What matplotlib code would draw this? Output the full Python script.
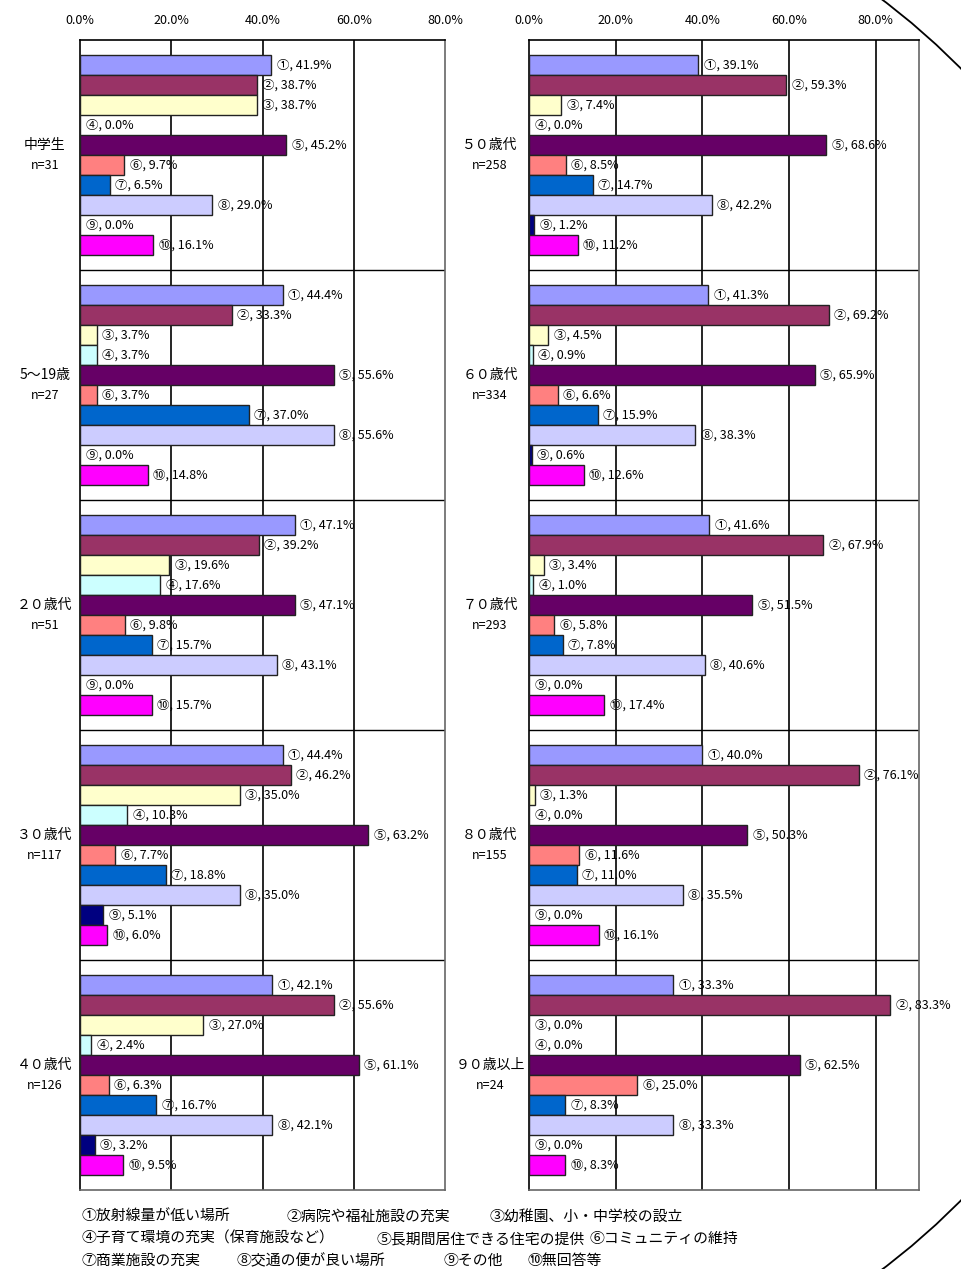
import matplotlib
matplotlib.use("Agg")
import matplotlib.pyplot as plt
from matplotlib.patches import Arc
import matplotlib.transforms as mtransforms

plt.rcParams['font.family'] = ['Noto Sans CJK JP', 'DejaVu Sans']

markers = ['①', '②', '③', '④', '⑤', '⑥', '⑦', '⑧', '⑨', '⑩']
colors = ['#9999FF', '#993366', '#FFFFCC', '#CCFFFF', '#660066',
          '#FF8080', '#0066CC', '#CCCCFF', '#000080', '#FF00FF']

left_groups = ['中学生', '5～19歳', '２０歳代', '３０歳代', '４０歳代']
left_n = ['n=31', 'n=27', 'n=51', 'n=117', 'n=126']
left_values = [
    [41.9, 38.7, 38.7, 0.0, 45.2, 9.7, 6.5, 29.0, 0.0, 16.1],
    [44.4, 33.3, 3.7, 3.7, 55.6, 3.7, 37.0, 55.6, 0.0, 14.8],
    [47.1, 39.2, 19.6, 17.6, 47.1, 9.8, 15.7, 43.1, 0.0, 15.7],
    [44.4, 46.2, 35.0, 10.3, 63.2, 7.7, 18.8, 35.0, 5.1, 6.0],
    [42.1, 55.6, 27.0, 2.4, 61.1, 6.3, 16.7, 42.1, 3.2, 9.5],
]

right_groups = ['５０歳代', '６０歳代', '７０歳代', '８０歳代', '９０歳以上']
right_n = ['n=258', 'n=334', 'n=293', 'n=155', 'n=24']
right_values = [
    [39.1, 59.3, 7.4, 0.0, 68.6, 8.5, 14.7, 42.2, 1.2, 11.2],
    [41.3, 69.2, 4.5, 0.9, 65.9, 6.6, 15.9, 38.3, 0.6, 12.6],
    [41.6, 67.9, 3.4, 1.0, 51.5, 5.8, 7.8, 40.6, 0.0, 17.4],
    [40.0, 76.1, 1.3, 0.0, 50.3, 11.6, 11.0, 35.5, 0.0, 16.1],
    [33.3, 83.3, 0.0, 0.0, 62.5, 25.0, 8.3, 33.3, 0.0, 8.3],
]

tick_values = [0, 20, 40, 60, 80]
tick_labels = ['0.0%', '20.0%', '40.0%', '60.0%', '80.0%']

legend_lines = [
    ['①放射線量が低い場所', '②病院や福祉施設の充実', '③幼稚園、小・中学校の設立'],
    ['④子育て環境の充実（保育施設など）', '⑤長期間居住できる住宅の提供', '⑥コミュニティの維持'],
    ['⑦商業施設の充実', '⑧交通の便が良い場所', '⑨その他', '⑩無回答等'],
]
legend_x = [[82, 287, 490], [82, 377, 590], [82, 237, 444, 528]]

W, H = 962, 1269
fig = plt.figure(figsize=(W / 100, H / 100), dpi=100)

step = 20 / 230.0


def draw_panel(rect, groups, ns, values, xmax, label_x):
    ax = fig.add_axes(rect)
    for gi, vals in enumerate(values):
        for j, v in enumerate(vals):
            y = gi + (j - 4.5) * step
            ax.barh(y, v, height=step * 0.97, color=colors[j],
                    edgecolor='#222222', linewidth=1.0, zorder=3)
            ax.annotate(f'{markers[j]}, {v:.1f}%', xy=(v, y), xytext=(4, 0),
                        textcoords='offset points', va='center', ha='left',
                        fontsize=9, zorder=4)
        trans = mtransforms.blended_transform_factory(ax.transAxes, ax.transData)
        ax.text(label_x, gi - 0.045, groups[gi], transform=trans, ha='center',
                va='center', fontsize=10)
        ax.text(label_x, gi + 0.045, ns[gi], transform=trans, ha='center',
                va='center', fontsize=9)
    for b in range(1, len(values)):
        ax.axhline(b - 0.5, color='black', linewidth=1.0, zorder=2)
    for t in tick_values[1:]:
        if t < xmax:
            ax.axvline(t, color='black', linewidth=1.2, zorder=1)
    ax.set_xlim(0, xmax)
    ax.set_ylim(len(values) - 0.5, -0.5)
    ax.xaxis.tick_top()
    ax.set_xticks(tick_values)
    ax.set_xticklabels(tick_labels, fontsize=9)
    ax.tick_params(axis='x', length=0, pad=9)
    ax.set_yticks([])
    for s in ['top', 'left']:
        ax.spines[s].set_color('black')
        ax.spines[s].set_linewidth(1.2)
    for s in ['right', 'bottom']:
        ax.spines[s].set_color('#666666')
        ax.spines[s].set_linewidth(1.2)
    return ax


top = 1 - 40 / H
height = 1150 / H
draw_panel([80 / W, top - height, 365 / W, height], left_groups, left_n,
           left_values, 80, -0.096)
draw_panel([529 / W, top - height, 390 / W, height], right_groups, right_n,
           right_values, 90, -0.10)

legend_y = [1221, 1243, 1265]
for line, xs, yy in zip(legend_lines, legend_x, legend_y):
    for txt, xx in zip(line, xs):
        fig.text(xx / W, 1 - yy / H, txt, ha='left', va='baseline', fontsize=10.7)

arc = Arc((480 / W, 0.5), 2 * 707 / W, 2 * 772 / H, theta1=-80, theta2=80,
          transform=fig.transFigure, edgecolor='black', linewidth=1.3)
fig.add_artist(arc)

fig.savefig('out.png', dpi=100)
